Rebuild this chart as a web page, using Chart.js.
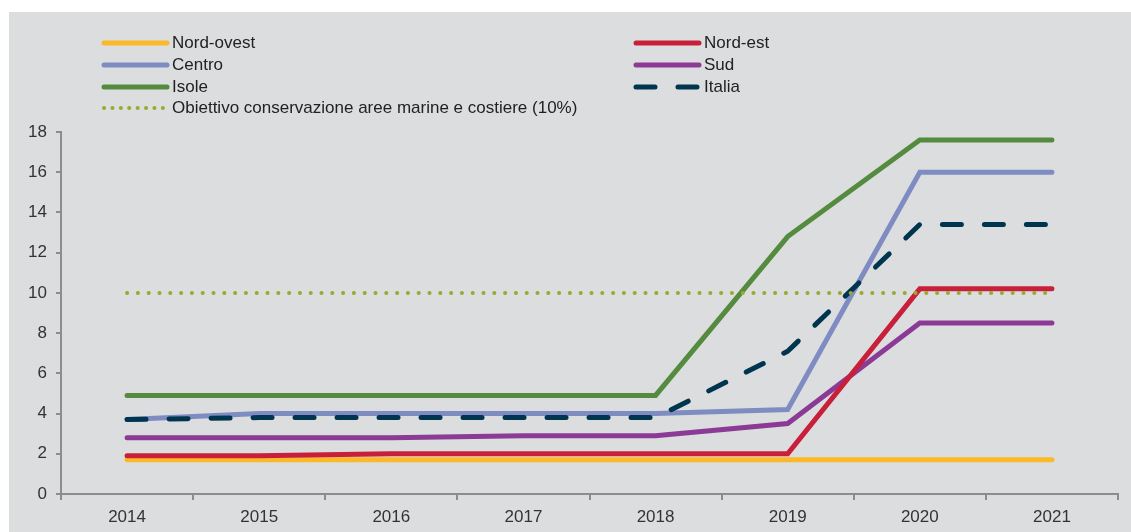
<!DOCTYPE html>
<html>
<head>
<meta charset="utf-8">
<script src="https://cdn.jsdelivr.net/npm/chart.js@4.4.0/dist/chart.umd.min.js"></script>
<style>
  body{margin:0;background:#fff;width:1131px;height:532px;overflow:hidden;font-family:"Liberation Sans",Arial,sans-serif;}
  #box{position:absolute;left:9px;top:12px;width:1122px;height:520px;background:#dcdddf;}
  #legend{position:absolute;left:0;top:0;}
  .item{position:absolute;height:20px;line-height:20px;font-size:17px;color:#222;white-space:nowrap;}
  .item svg{position:absolute;left:0;top:4px;}
  .item span{position:absolute;left:71px;top:0;}
</style>
</head>
<body>
<div id="box">
  <canvas id="chart" width="1122" height="520"></canvas>
  <div id="legend"></div>
</div>
<script>
// Dati
const anni = ['2014','2015','2016','2017','2018','2019','2020','2021'];
const nordOvest = [1.7,1.7,1.7,1.7,1.7,1.7,1.7,1.7];
const nordEst = [1.9,1.9,2.0,2.0,2.0,2.0,10.2,10.2];
const centro = [3.7,4.0,4.0,4.0,4.0,4.2,16.0,16.0];
const sud = [2.8,2.8,2.8,2.9,2.9,3.5,8.5,8.5];
const isole = [4.9,4.9,4.9,4.9,4.9,12.8,17.6,17.6];
const italia = [3.7,3.8,3.8,3.8,3.8,7.1,13.4,13.4];
const obiettivo = [10,10,10,10,10,10,10,10];

const yMax = 18;
const yStep = 2;

const font = {family:'"Liberation Sans", Arial, sans-serif', size:17};

function serie(label, data, color, order, extra){
    return Object.assign({
        label: label,
        data: data,
        borderColor: color,
        backgroundColor: color,
        borderWidth: 5,
        borderCapStyle: 'round',
        borderJoinStyle: 'miter',
        pointRadius: 0,
        tension: 0,
        fill: false,
        order: order
    }, extra || {});
}

const datasets = [
    serie('Nord-ovest', nordOvest, '#fbb829', 6),
    serie('Nord-est', nordEst, '#c8203a', 2),
    serie('Centro', centro, '#7e8cc2', 4),
    serie('Sud', sud, '#8b3a96', 3),
    serie('Isole', isole, '#548b3e', 5),
    serie('Italia', italia, '#003550', 1, {borderDash:[19,23]}),
    serie('Obiettivo conservazione aree marine e costiere (10%)', obiettivo, '#9aaa2e', 0, {borderWidth:4, borderDash:[0.1,10.7]})
];

const axisColor = '#8c8c8c';

const chart = new Chart(document.getElementById('chart'), {
    type: 'line',
    data: {labels: anni, datasets: datasets},
    options: {
        responsive: false,
        animation: false,
        devicePixelRatio: 1,
        layout: {padding: {top: 120, right: 13, left: 0, bottom: 0}},
        plugins: {legend: {display: false}, tooltip: {enabled: false}},
        scales: {
            x: {
                offset: true,
                grid: {offset: true, drawOnChartArea: false, drawTicks: true, tickLength: 6, color: axisColor, lineWidth: 2},
                border: {display: true, color: axisColor, width: 2},
                ticks: {color: '#333', font: font, padding: 7, maxRotation: 0},
                afterFit: (s) => { s.height = 38; }
            },
            y: {
                min: 0,
                max: yMax,
                grid: {drawOnChartArea: false, drawTicks: true, tickLength: 5, color: axisColor, lineWidth: 2},
                border: {display: true, color: axisColor, width: 2},
                ticks: {stepSize: yStep, color: '#333', font: font, padding: 9},
                afterFit: (s) => { s.width = 52; }
            }
        }
    }
});

// Legenda a due colonne
const legend = document.getElementById('legend');
const colX = [92, 624];
const rowY = [31, 53, 75, 96];
datasets.forEach((d, i) => {
    const col = i % 2;
    const row = Math.floor(i / 2);
    const div = document.createElement('div');
    div.className = 'item';
    div.style.left = colX[col] + 'px';
    div.style.top = (rowY[row] - 10) + 'px';
    let dash = '';
    let w = 5;
    if(d.borderDash && d.borderWidth === 4){ dash = 'stroke-dasharray="0.1 8.3"'; w = 4; }
    else if(d.borderDash){ dash = 'stroke-dasharray="19 23"'; }
    div.innerHTML = '<svg width="70" height="12"><line x1="3" y1="6" x2="66" y2="6" stroke="' + d.borderColor +
        '" stroke-width="' + w + '" stroke-linecap="round" ' + dash + '/></svg><span>' + d.label + '</span>';
    legend.appendChild(div);
});
</script>
</body>
</html>
